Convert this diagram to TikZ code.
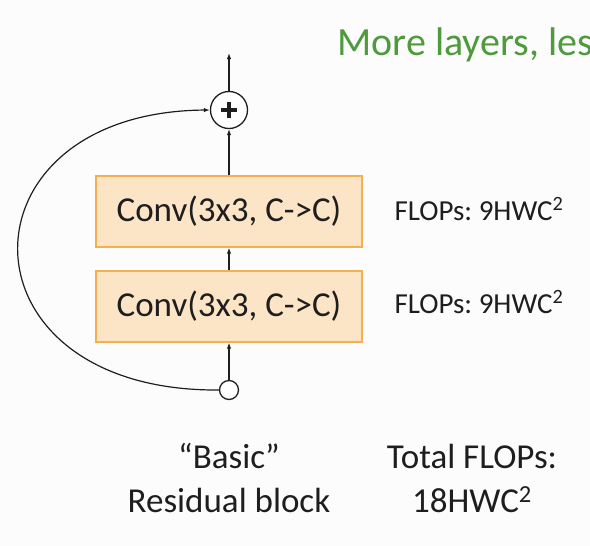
\documentclass[tikz,border=0pt]{standalone}
\usepackage{fontspec}
\setmainfont{Carlito}
\frenchspacing
\usetikzlibrary{arrows.meta}
\usetikzlibrary{positioning}
\definecolor{paper}{HTML}{FBFCFB}
\definecolor{boxfill}{HTML}{FCE4C6}
\definecolor{boxline}{HTML}{F4B04F}
\definecolor{titlegreen}{HTML}{4E9A3C}
\definecolor{ink}{HTML}{1E1E1E}

\tikzset{
  convbox/.style={draw=boxline, fill=boxfill, line width=1.3pt, minimum width=266pt,
    minimum height=71pt, inner sep=0pt, font=\fontsize{35}{42}\selectfont, text=ink},
  joint/.style={draw=ink, circle, line width=1.3pt, fill=white, inner sep=0pt},
  flow/.style={-{Latex[length=6pt,width=4.5pt]}, line width=1.2pt, draw=ink},
  flopslabel/.style={anchor=base west, font=\fontsize{29}{35}\selectfont, text=ink},
  caption/.style={anchor=base, font=\fontsize{35}{44}\selectfont, text=ink}
}

\begin{document}
\begin{tikzpicture}[x=1pt, y=-1pt]
       \useasboundingbox (0,0) rectangle (590,546);
       \clip (0,0) rectangle (590,546);
       \fill[paper] (0,0) rectangle (590,546);

       \node[anchor=base west, font=\fontsize{40}{48}\selectfont, text=titlegreen] (title) at (334,56) {More layers, les};

       \node[convbox] (conv1) at (229,211.5) {Conv(3x3, C->C)};
       \node[convbox] (conv2) at (229,306.5) {Conv(3x3, C->C)};
       \node[joint, minimum size=37pt] (plus) at (229,110) {};
       \node[joint, minimum size=19pt] (input) at (229,390) {};
       \coordinate (out) at (229,53);

       \draw[line width=3.8pt, ink] ([xshift=-8pt]plus.center) -- ([xshift=8pt]plus.center);
       \draw[line width=3.8pt, ink] ([yshift=-8pt]plus.center) -- ([yshift=8pt]plus.center);

       \draw[flow] (input) -- (conv2);
       \draw[flow] (conv2) -- (conv1);
       \draw[flow] (conv1) -- (plus);
       \draw[flow] (plus) -- (out);
       \draw[flow] (input.west) .. controls (-47,392) and (-47,112) .. (plus.west);

       \node[flopslabel] (flops1) at (391,220) {FLOPs: 9HWC\textsuperscript{2}};
       \node[flopslabel] (flops2) at (391,313) {FLOPs: 9HWC\textsuperscript{2}};

       \node[caption] (basic) at (229,468) {“Basic”};
       \node[caption] (resblock) at (229,512) {Residual block};
       \node[caption] (total) at (472,468) {Total FLOPs:};
       \node[caption] (totalval) at (472,512) {18HWC\textsuperscript{2}};
\end{tikzpicture}
\end{document}
